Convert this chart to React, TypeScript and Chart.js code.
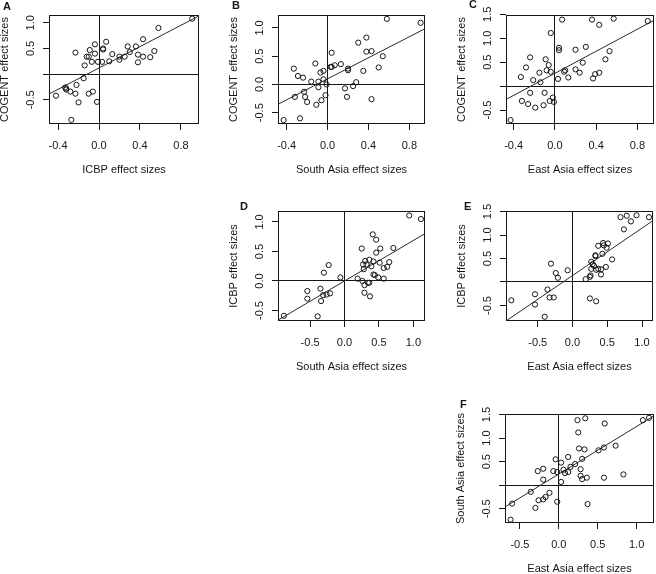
import React, { useEffect, useRef } from 'react';
import { Chart, registerables } from 'chart.js';
Chart.register(...registerables);

// ---------- data ----------
const A_x = [0.91, 0.58, 0.43, 0.54, 0.50, 0.43, 0.38, 0.38, 0.36, 0.28, 0.30, 0.25, 0.20, 0.20, 0.13, 0.07, 0.10, 0.04, 0.04, 0.03, -0.01, -0.04, -0.04, -0.09, -0.10, -0.07, -0.12, -0.14, -0.23, -0.15, -0.22, -0.10, -0.06, -0.02, -0.20, -0.23, -0.28, -0.33, -0.32, -0.42, -0.27, -0.32];
const A_y = [1.08, 0.90, 0.68, 0.45, 0.33, 0.34, 0.38, 0.23, 0.54, 0.54, 0.43, 0.34, 0.28, 0.34, 0.39, 0.63, 0.25, 0.50, 0.48, 0.24, 0.24, 0.58, 0.40, 0.47, 0.34, 0.24, 0.34, 0.17, 0.42, -0.08, -0.21, -0.38, -0.34, -0.54, -0.55, -0.38, -0.34, -0.26, -0.30, -0.42, -0.89, -0.28];

const B_x = [0.91, 0.58, 0.38, 0.30, 0.38, 0.43, 0.54, 0.50, 0.35, 0.20, 0.20, 0.13, 0.07, 0.04, 0.03, 0.04, -0.12, -0.04, -0.07, -0.04, -0.09, -0.16, -0.09, -0.01, -0.02, -0.06, -0.11, -0.20, -0.22, -0.23, -0.32, -0.24, -0.29, -0.33, -0.43, -0.27, 0.17, 0.19, 0.25, 0.28, 0.43];
const B_y = [1.09, 1.16, 0.83, 0.74, 0.58, 0.59, 0.50, 0.30, 0.24, 0.28, 0.25, 0.36, 0.34, 0.31, 0.31, 0.56, 0.37, 0.24, 0.21, 0.09, 0.05, 0.05, -0.05, 0.0, -0.19, -0.28, -0.36, -0.31, -0.22, -0.13, -0.22, 0.12, 0.15, 0.28, -0.63, -0.60, -0.07, -0.22, -0.03, 0.04, -0.26];

const C_x = [0.90, 0.57, 0.36, 0.43, 0.07, -0.04, 0.04, 0.04, 0.20, 0.30, 0.53, 0.49, 0.27, 0.20, 0.24, 0.10, 0.09, 0.13, 0.03, 0.39, 0.37, 0.43, -0.09, -0.06, -0.08, -0.04, -0.24, -0.28, -0.33, -0.15, -0.21, -0.14, -0.24, -0.10, -0.32, -0.26, -0.19, -0.11, -0.05, -0.02, -0.01, -0.43];
const C_y = [1.36, 1.41, 1.39, 1.28, 1.39, 1.11, 0.80, 0.75, 0.76, 0.82, 0.73, 0.56, 0.49, 0.35, 0.28, 0.33, 0.30, 0.18, 0.15, 0.25, 0.16, 0.28, 0.56, 0.44, 0.33, 0.30, 0.60, 0.39, 0.19, 0.28, 0.125, 0.08, -0.14, -0.14, -0.31, -0.375, -0.45, -0.40, -0.31, -0.24, -0.33, -0.71];

const D_x = [0.94, 1.11, 0.41, 0.46, 0.71, 0.52, 0.25, 0.46, 0.65, 0.51, 0.42, 0.36, 0.30, 0.32, 0.27, 0.39, 0.28, 0.62, 0.57, 0.42, 0.44, 0.49, 0.57, 0.19, 0.26, 0.34, 0.36, 0.29, 0.29, 0.37, -0.06, -0.23, -0.30, -0.35, -0.31, -0.34, -0.21, -0.26, -0.54, -0.54, -0.39, -0.88];
const D_y = [1.11, 1.05, 0.79, 0.70, 0.56, 0.55, 0.55, 0.48, 0.32, 0.31, 0.33, 0.36, 0.34, 0.28, 0.28, 0.25, 0.20, 0.24, 0.22, 0.11, 0.10, 0.06, 0.04, 0.04, 0.0, -0.03, -0.03, -0.07, -0.20, -0.26, 0.06, 0.27, 0.14, -0.13, -0.24, -0.34, -0.21, -0.23, -0.17, -0.30, -0.60, -0.59];

const E_x = [1.10, 0.92, 0.69, 0.78, 0.84, 0.74, 0.44, 0.45, 0.51, 0.37, 0.49, 0.43, 0.33, 0.33, 0.57, 0.27, 0.29, 0.31, 0.37, 0.41, 0.34, 0.48, 0.27, 0.41, 0.26, 0.25, 0.19, 0.25, 0.34, -0.07, -0.31, -0.24, -0.21, -0.36, -0.33, -0.27, -0.54, -0.54, -0.88, -0.40];
const E_y = [1.38, 1.42, 1.38, 1.41, 1.29, 1.12, 0.83, 0.78, 0.82, 0.77, 0.73, 0.60, 0.57, 0.55, 0.48, 0.43, 0.38, 0.34, 0.28, 0.27, 0.26, 0.32, 0.28, 0.16, 0.14, 0.11, 0.06, -0.35, -0.41, 0.25, 0.39, 0.19, 0.09, -0.16, -0.33, -0.33, -0.26, -0.48, -0.39, -0.74];

const F_x = [1.16, 1.08, 0.34, 0.24, 0.59, 0.25, 0.73, 0.58, 0.51, 0.26, 0.33, 0.12, 0.30, 0.21, 0.15, 0.28, 0.12, 0.06, 0.08, 0.03, -0.04, -0.02, -0.07, -0.20, -0.27, -0.20, 0.03, 0.28, 0.30, 0.36, 0.58, 0.83, -0.12, -0.17, -0.20, -0.26, -0.36, -0.30, -0.60, -0.02, 0.37, -0.62];
const F_y = [1.43, 1.38, 1.42, 1.38, 1.31, 1.12, 0.84, 0.80, 0.74, 0.78, 0.76, 0.60, 0.56, 0.45, 0.39, 0.34, 0.28, 0.33, 0.26, 0.48, 0.55, 0.28, 0.30, 0.35, 0.30, 0.12, 0.07, 0.20, 0.13, 0.16, 0.16, 0.23, -0.16, -0.25, -0.30, -0.32, -0.14, -0.48, -0.39, -0.35, -0.40, -0.73];

// fitted lines (intercept, slope)
const A_fit = [0.12, 1.04];
const B_fit = [0.10, 0.93];
const C_fit = [0.267, 1.153];
const D_fit = [0.0, 0.687];
const E_fit = [0.137, 1.01];
const F_fit = [0.237, 1.01];

// tick values
const X_TICKS_NARROW = [-0.4, 0, 0.4, 0.8];
const X_TICKS_WIDE = [-0.5, 0, 0.5, 1.0];
const Y_TICKS_LOW = [-0.5, 0, 0.5, 1.0];
const Y_TICKS_HIGH = [-0.5, 0, 0.5, 1.0, 1.5];

// axis titles
const T_COGENT = 'COGENT effect sizes';
const T_ICBP = 'ICBP effect sizes';
const T_SOUTH = 'South Asia effect sizes';
const T_EAST = 'East Asia effect sizes';

const INK = '#161616';
const FONT = "'Liberation Sans', Arial, Helvetica, sans-serif";

type Box = { l: number; t: number; r: number; b: number };
type Spec = {
  letter: string;
  letterPos: [number, number];
  xs: number[];
  ys: number[];
  fit: number[];
  xRange: [number, number];
  yRange: [number, number];
  xTicks: number[];
  yTicks: number[];
  hideYZero: boolean;
  xTitle: string;
  yTitle: string;
  box: Box;
};

const PANELS: Spec[] = [
  { letter: 'A', letterPos: [3, 1], xs: A_x, ys: A_y, fit: A_fit, xRange: [-0.488, 0.976], yRange: [-0.971, 1.152], xTicks: X_TICKS_NARROW, yTicks: Y_TICKS_LOW, hideYZero: true, xTitle: T_ICBP, yTitle: T_COGENT, box: { l: 49, t: 15, r: 199, b: 124 } },
  { letter: 'B', letterPos: [232, 0], xs: B_x, ys: B_y, fit: B_fit, xRange: [-0.485, 0.953], yRange: [-0.70, 1.229], xTicks: X_TICKS_NARROW, yTicks: Y_TICKS_LOW, hideYZero: false, xTitle: T_SOUTH, yTitle: T_COGENT, box: { l: 278, t: 15, r: 425, b: 124 } },
  { letter: 'C', letterPos: [469, -1], xs: C_x, ys: C_y, fit: C_fit, xRange: [-0.474, 0.961], yRange: [-0.792, 1.486], xTicks: X_TICKS_NARROW, yTicks: Y_TICKS_HIGH, hideYZero: true, xTitle: T_EAST, yTitle: T_COGENT, box: { l: 506, t: 15, r: 654, b: 124 } },
  { letter: 'D', letterPos: [240, 201], xs: D_x, ys: D_y, fit: D_fit, xRange: [-0.966, 1.169], yRange: [-0.678, 1.186], xTicks: X_TICKS_WIDE, yTicks: Y_TICKS_LOW, hideYZero: false, xTitle: T_SOUTH, yTitle: T_ICBP, box: { l: 278, t: 211, r: 425, b: 321 } },
  { letter: 'E', letterPos: [464, 201], xs: E_x, ys: E_y, fit: E_fit, xRange: [-0.957, 1.158], yRange: [-0.830, 1.511], xTicks: X_TICKS_WIDE, yTicks: Y_TICKS_HIGH, hideYZero: true, xTitle: T_EAST, yTitle: T_ICBP, box: { l: 506, t: 211, r: 653, b: 321 } },
  { letter: 'F', letterPos: [460, 399], xs: F_x, ys: F_y, fit: F_fit, xRange: [-0.691, 1.223], yRange: [-0.801, 1.511], xTicks: X_TICKS_WIDE, yTicks: Y_TICKS_HIGH, hideYZero: true, xTitle: T_EAST, yTitle: T_SOUTH, box: { l: 505, t: 414, r: 654, b: 523 } },
];

const AXW = 51; // y axis width
const PADT = 15;
const PADR = 15;
const AXH = 53; // x axis height

const boxPlugin = {
  id: 'rbox',
  afterDraw(chart: any) {
    const { ctx, chartArea: a } = chart;
    ctx.save();
    ctx.strokeStyle = INK;
    ctx.lineWidth = 1;
    const l = Math.round(a.left), t = Math.round(a.top), r = Math.round(a.right), b = Math.round(a.bottom);
    ctx.strokeRect(l + 0.5, t + 0.5, r - l - 1, b - t - 1);
    ctx.restore();
  },
};

function Panel({ spec }: { spec: Spec }) {
  const ref = useRef<HTMLCanvasElement>(null);
  const bw = spec.box.r - spec.box.l;
  const bh = spec.box.b - spec.box.t;
  const cw = AXW + bw + PADR;
  const ch = PADT + bh + AXH;

  useEffect(() => {
    const pts = spec.xs.map((x, i) => ({ x, y: spec.ys[i] }));
    const [x0, x1] = spec.xRange;
    const line = [
      { x: x0, y: spec.fit[0] + spec.fit[1] * x0 },
      { x: x1, y: spec.fit[0] + spec.fit[1] * x1 },
    ];
    const gridCfg = {
      drawOnChartArea: true,
      drawTicks: true,
      tickLength: 6,
      lineWidth: 1,
      tickWidth: 1,
      tickColor: INK,
      color: (c: any) => (c.tick && c.tick.value === 0 ? INK : 'rgba(0,0,0,0)'),
    };
    const chart = new Chart(ref.current as HTMLCanvasElement, {
      type: 'scatter',
      data: {
        datasets: [
          {
            data: pts,
            pointRadius: 2.6,
            pointBorderWidth: 1,
            borderColor: INK,
            backgroundColor: 'rgba(0,0,0,0)',
            pointStyle: 'circle',
            showLine: false,
          } as any,
          {
            type: 'line',
            data: line,
            borderColor: '#2a2a2a',
            borderWidth: 1,
            pointRadius: 0,
            fill: false,
            showLine: true,
          } as any,
        ],
      },
      options: {
        responsive: false,
        animation: false,
        devicePixelRatio: 1,
        events: [],
        layout: { padding: { top: PADT, right: PADR, left: 0, bottom: 0 } },
        plugins: { legend: { display: false }, tooltip: { enabled: false } },
        scales: {
          x: {
            type: 'linear',
            min: x0,
            max: x1,
            afterBuildTicks: (s: any) => {
              s.ticks = spec.xTicks.map((v) => ({ value: v }));
            },
            afterFit: (s: any) => {
              s.height = AXH;
            },
            grid: gridCfg as any,
            border: { display: false },
            ticks: {
              color: INK,
              font: { family: FONT, size: 11 },
              padding: 9,
              maxRotation: 0,
              minRotation: 0,
              autoSkip: false,
              callback: (v: any) => Number(v).toFixed(1),
            },
            title: {
              display: true,
              text: spec.xTitle,
              color: INK,
              font: { family: FONT, size: 11 },
              padding: 0,
            },
          },
          y: {
            type: 'linear',
            min: spec.yRange[0],
            max: spec.yRange[1],
            afterBuildTicks: (s: any) => {
              s.ticks = spec.yTicks.map((v) => ({ value: v }));
            },
            afterFit: (s: any) => {
              s.width = AXW;
            },
            grid: gridCfg as any,
            border: { display: false },
            ticks: {
              color: INK,
              font: { family: FONT, size: 11 },
              padding: 3,
              minRotation: 90,
              maxRotation: 90,
              crossAlign: 'center',
              autoSkip: false,
              callback: (v: any) => (spec.hideYZero && Number(v) === 0 ? '' : Number(v).toFixed(1)),
            },
            title: {
              display: true,
              text: spec.yTitle,
              color: INK,
              font: { family: FONT, size: 11 },
              padding: 0,
            },
          },
        },
      } as any,
      plugins: [boxPlugin],
    });
    return () => chart.destroy();
  }, []);

  return (
    <canvas
      ref={ref}
      width={cw}
      height={ch}
      style={{
        position: 'absolute',
        left: spec.box.l - AXW,
        top: spec.box.t - PADT,
        width: cw,
        height: ch,
      }}
    />
  );
}

export default function App() {
  return (
    <div
      style={{
        position: 'absolute',
        left: 0,
        top: 0,
        width: 656,
        height: 574,
        overflow: 'hidden',
        background: '#fff',
      }}
    >
      {PANELS.map((p) => (
        <Panel key={p.letter} spec={p} />
      ))}
      {PANELS.map((p) => (
        <div
          key={'L' + p.letter}
          style={{
            position: 'absolute',
            left: p.letterPos[0],
            top: p.letterPos[1],
            font: `bold 11px ${FONT}`,
            lineHeight: '11px',
            color: INK,
          }}
        >
          {p.letter}
        </div>
      ))}
    </div>
  );
}
